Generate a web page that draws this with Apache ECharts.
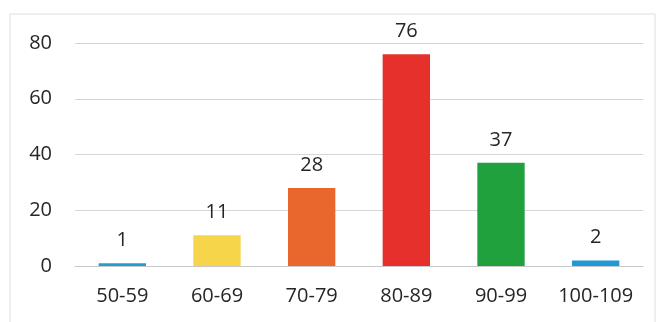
<!DOCTYPE html>
<html>
<head>
<meta charset="utf-8">
<script src="https://cdn.jsdelivr.net/npm/echarts@6/dist/echarts.min.js"></script>
<style>
  html, body { margin: 0; padding: 0; background: #fff; }
  #chart { width: 660px; height: 322px; }
</style>
</head>
<body>
<div id="chart"></div>
<script>
// Score bands and how many fall into each
const categories = ['50-59', '60-69', '70-79', '80-89', '90-99', '100-109'];
const counts = [1, 11, 28, 76, 37, 2];
const barColors = ['#1f9fd4', '#f7d54a', '#e9672c', '#e6302b', '#21a03e', '#1f9ad6'];
const yTicks = { min: 0, max: 80, interval: 20 };

const chart = echarts.init(document.getElementById('chart'));
const font = 'Open Sans, Liberation Sans, sans-serif';

chart.setOption({
  animation: false,
  backgroundColor: '#fff',
  graphic: [{
    type: 'rect',
    shape: { x: 10, y: 14, width: 645, height: 320 },
    style: { fill: 'none', stroke: '#dedede', lineWidth: 1 },
    silent: true
  }],
  grid: { left: 75, right: 17, top: 43, bottom: 56 },
  xAxis: {
    type: 'category',
    data: categories,
    axisLine: { lineStyle: { color: '#c8c8c8', width: 1 } },
    axisTick: { show: false },
    axisLabel: { interval: 0, color: '#262626', fontSize: 20, fontFamily: font, margin: 20 }
  },
  yAxis: {
    type: 'value',
    min: yTicks.min,
    max: yTicks.max,
    interval: yTicks.interval,
    axisLine: { show: false },
    axisTick: { show: false },
    axisLabel: { color: '#262626', fontSize: 20, fontFamily: font, margin: 23 },
    splitLine: { lineStyle: { color: '#d6d6d6', width: 1 } }
  },
  series: [{
    type: 'bar',
    barWidth: '50%',
    data: counts.map((v, i) => ({ value: v, itemStyle: { color: barColors[i] } })),
    label: {
      show: true,
      position: 'top',
      distance: 13,
      color: '#262626',
      fontSize: 20,
      fontFamily: font
    }
  }]
});
</script>
</body>
</html>
